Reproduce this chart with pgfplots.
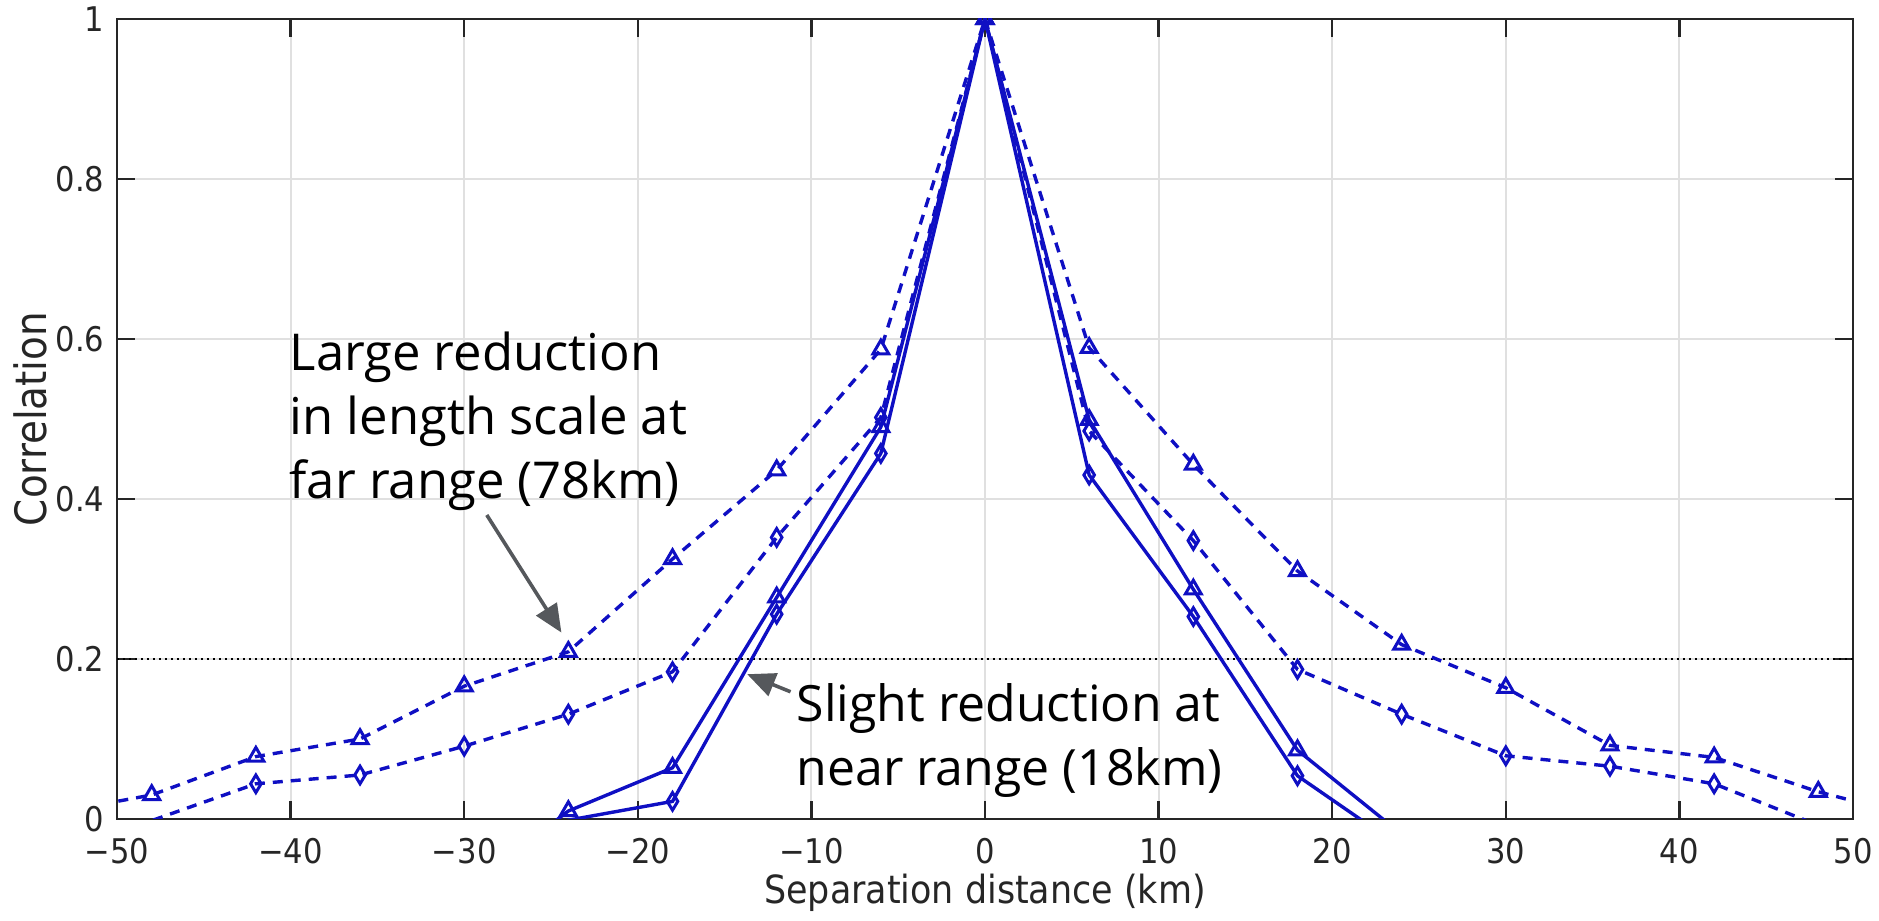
\documentclass[border=0pt]{standalone}
\usepackage{pgfplots}
\pgfplotsset{compat=1.18}
\usepackage{fontspec}
\setmainfont{DejaVu Sans Condensed}
\newfontfamily\annfont{Open Sans}
\usetikzlibrary{arrows.meta}
\definecolor{lineblue}{RGB}{15,15,195}
\definecolor{axgray}{RGB}{38,38,38}
\definecolor{arrgray}{RGB}{85,88,92}
\begin{document}
\begin{tikzpicture}
\begin{axis}[
  scale only axis,
  width=434pt, height=200pt,
  xmin=-50, xmax=50, ymin=0, ymax=1,
  xtick={-50,-40,-30,-20,-10,0,10,20,30,40,50},
  xticklabels={−50,−40,−30,−20,−10,0,10,20,30,40,50},
  ytick={0,0.2,0.4,0.6,0.8,1},
  yticklabels={0,0.2,0.4,0.6,0.8,1},
  tick align=inside,
  major tick length=4.5pt,
  axis line style={axgray, line width=0.6pt},
  tick style={axgray, line width=0.6pt},
  grid=major,
  major grid style={black!12, line width=0.5pt},
  ticklabel style={font=\fontsize{8.5}{10}\selectfont, text=axgray},
  xticklabel style={inner sep=0pt, yshift=-4.6pt},
  yticklabel style={inner sep=0pt, xshift=-3pt},
  xlabel={Separation distance (km)},
  ylabel={Correlation},
  label style={text=axgray},
  xlabel style={font=\fontsize{9.7}{12}\selectfont, at={(axis description cs:0.5,0)}, anchor=center, yshift=-18.5pt},
  ylabel style={font=\fontsize{10.8}{12}\selectfont, at={(axis description cs:-0.0501,0.5)}, anchor=center},
  clip marker paths=true,
  every axis plot/.append style={lineblue, line width=0.85pt},
]
% dotted threshold line
\addplot[black, line width=0.6pt, dash pattern=on 0.6pt off 0.9pt] coordinates {(-50,0.2) (50,0.2)};
% A: dashed, triangles
\addplot[dash pattern=on 2.5pt off 2pt, mark=triangle, mark size=2.3pt, mark options={solid, line width=0.75pt}] coordinates {
(-54,0.006) (-48,0.030) (-42,0.078) (-36,0.100) (-30,0.166) (-24,0.209) (-18,0.325) (-12,0.436) (-6,0.587) (0,1.0)
(6,0.589) (12,0.443) (18,0.310) (24,0.218) (30,0.164) (36,0.092) (42,0.077) (48,0.034) (54,0.0)};
% B: dashed, diamonds
\addplot[dash pattern=on 2.5pt off 2pt, mark=diamond, mark size=2.2pt, mark options={solid, line width=0.75pt, xscale=0.8}] coordinates {
(-54,-0.03) (-48,-0.002) (-42,0.044) (-36,0.055) (-30,0.091) (-24,0.131) (-18,0.184) (-12,0.352) (-6,0.502) (0,1.0)
(6,0.485) (12,0.348) (18,0.187) (24,0.131) (30,0.079) (36,0.066) (42,0.044) (48,-0.008) (54,-0.04)};
% C: solid, triangles
\addplot[solid, mark=triangle, mark size=2.3pt, mark options={solid, line width=0.75pt}] coordinates {
(-30,-0.09) (-24,0.010) (-18,0.064) (-12,0.277) (-6,0.490) (0,1.0)
(6,0.499) (12,0.287) (18,0.086) (24,-0.019)};
% D: solid, diamonds
\addplot[solid, mark=diamond, mark size=2.2pt, mark options={solid, line width=0.75pt, xscale=0.8}] coordinates {
(-30,-0.03) (-24,-0.0015) (-18,0.022) (-12,0.256) (-6,0.457) (0,1.0)
(6,0.430) (12,0.253) (18,0.054) (24,-0.036)};
% annotations
\node[anchor=base west, inner sep=0pt, font=\annfont\fontsize{12.7}{15}\selectfont] at (axis cs:-40.1,0.56) {Large reduction};
\node[anchor=base west, inner sep=0pt, font=\annfont\fontsize{12.7}{15}\selectfont] at (axis cs:-40.1,0.48) {in length scale at};
\node[anchor=base west, inner sep=0pt, font=\annfont\fontsize{12.7}{15}\selectfont] at (axis cs:-40.1,0.40) {far range (78km)};
\node[anchor=base west, inner sep=0pt, font=\annfont\fontsize{12.5}{15}\selectfont] at (axis cs:-10.9,0.122) {Slight reduction at};
\node[anchor=base west, inner sep=0pt, font=\annfont\fontsize{12.5}{15}\selectfont] at (axis cs:-10.9,0.042) {near range (18km)};
\draw[arrgray, line width=0.9pt, -{Triangle[length=7pt,width=6pt]}] (axis cs:-28.7,0.38) -- (axis cs:-24.4,0.233);
\draw[arrgray, line width=0.9pt, -{Triangle[length=7pt,width=6pt]}] (axis cs:-11.2,0.159) -- (axis cs:-13.7,0.181);
\end{axis}
\pgfresetboundingbox
\useasboundingbox (-29.25pt,-25.5pt) rectangle (440.5pt,204.75pt);
\end{tikzpicture}
\end{document}
